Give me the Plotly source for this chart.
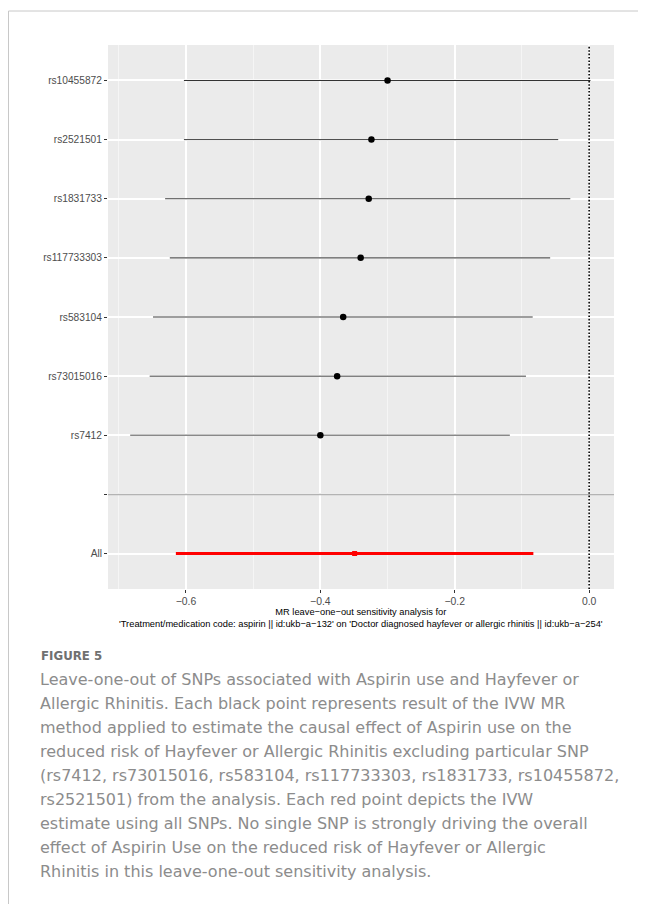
import plotly.graph_objects as go

# ---- data ----
snps = ["rs10455872", "rs2521501", "rs1831733", "rs117733303", "rs583104", "rs73015016", "rs7412"]
snp_b = [-0.300, -0.324, -0.328, -0.340, -0.366, -0.375, -0.400]
snp_lo = [-0.603, -0.603, -0.631, -0.624, -0.649, -0.654, -0.683]
snp_hi = [0.002, -0.046, -0.028, -0.058, -0.084, -0.094, -0.118]
snp_line_colors = ["#2e2e2e", "#3a3a3a", "#444444", "#555555", "#7c7c7c", "#808080", "#888888"]
snp_line_widths = [1.0, 1.0, 1.0, 1.2, 1.5, 1.5, 1.5]

all_label = "All"
all_b = -0.349
all_lo = -0.615
all_hi = -0.083

sep_label = " "
x_ticks = [-0.6, -0.4, -0.2, 0.0]
x_range = [-0.716, 0.037]

axis_title = ("MR leave\u2212one\u2212out sensitivity analysis for<br>"
              "'Treatment/medication code: aspirin || id:ukb\u2212a\u2212132' on "
              "'Doctor diagnosed hayfever or allergic rhinitis || id:ukb\u2212a\u2212254'")

fig_label = "FIGURE 5"
caption_lines = [
    "Leave-one-out of SNPs associated with Aspirin use and Hayfever or",
    "Allergic Rhinitis. Each black point represents result of the IVW MR",
    "method applied to estimate the causal effect of Aspirin use on the",
    "reduced risk of Hayfever or Allergic Rhinitis excluding particular SNP",
    "(rs7412, rs73015016, rs583104, rs117733303, rs1831733, rs10455872,",
    "rs2521501) from the analysis. Each red point depicts the IVW",
    "estimate using all SNPs. No single SNP is strongly driving the overall",
    "effect of Aspirin Use on the reduced risk of Hayfever or Allergic",
    "Rhinitis in this leave-one-out sensitivity analysis.",
]

# ---- layout geometry (pixels; page body has an 8px margin) ----
OFF = 8
W, H = 638, 896
PL, PR, PT, PB = 108 - OFF, 614 - OFF, 45 - OFF, 589 - OFF


def px(xs):
    """screen x (reference pixels) -> paper fraction"""
    return (xs - OFF - PL) / (PR - PL)


def py(ys):
    """screen y (reference pixels) -> paper fraction"""
    return (PB - (ys - OFF)) / (PB - PT)


cat_order = [all_label, sep_label] + snps[::-1]  # bottom to top

fig = go.Figure()

for name, b, lo, hi, col, lw in zip(snps, snp_b, snp_lo, snp_hi, snp_line_colors, snp_line_widths):
    fig.add_trace(go.Scatter(
        x=[lo, hi], y=[name, name], mode="lines",
        line=dict(color=col, width=lw), showlegend=False, hoverinfo="skip"))
    fig.add_trace(go.Scatter(
        x=[b], y=[name], mode="markers",
        marker=dict(color="black", size=6.5), showlegend=False))

fig.add_trace(go.Scatter(
    x=[all_lo, all_hi], y=[all_label, all_label], mode="lines",
    line=dict(color="#ff0000", width=3.2), showlegend=False, hoverinfo="skip"))
fig.add_trace(go.Scatter(
    x=[all_b], y=[all_label], mode="markers",
    marker=dict(color="#ff0000", size=5, symbol="square"), showlegend=False))

shapes = []
# separator row line
shapes.append(dict(type="line", xref="paper", x0=0, x1=1, yref="y", y0=1, y1=1,
                   line=dict(color="#b3b3b3", width=1.5), layer="above"))
# dotted vertical at 0
shapes.append(dict(type="line", xref="x", x0=0, x1=0, yref="paper", y0=0, y1=1,
                   line=dict(color="black", width=1.6, dash="1.6px,1.8px"), layer="above"))
# outer frame of the figure page
shapes.append(dict(type="line", xref="paper", yref="paper",
                   x0=px(8.5), x1=px(8.5), y0=py(11), y1=py(904),
                   line=dict(color="#c8c8c8", width=1)))
shapes.append(dict(type="line", xref="paper", yref="paper",
                   x0=px(8.5), x1=px(646), y0=py(11), y1=py(11),
                   line=dict(color="#c8c8c8", width=1)))

annotations = []
annotations.append(dict(
    text=axis_title, xref="paper", yref="paper", x=0.5, y=py(605),
    xanchor="center", yanchor="top", showarrow=False, align="center",
    font=dict(family="Liberation Sans, Arial", size=9.3, color="black")))
annotations.append(dict(
    text="<b>" + fig_label + "</b>", xref="paper", yref="paper", x=px(39), y=py(656),
    xanchor="left", yanchor="middle", showarrow=False,
    font=dict(family="DejaVu Sans", size=11.8, color="#707070")))
for i, line in enumerate(caption_lines):
    annotations.append(dict(
        text=line, xref="paper", yref="paper", x=px(38), y=py(679 + i * 24.1),
        xanchor="left", yanchor="middle", showarrow=False,
        font=dict(family="DejaVu Sans", size=16, color="#8c8c8c")))

fig.update_layout(
    width=W, height=H,
    margin=dict(l=PL, r=W - PR, t=PT, b=H - PB, pad=0),
    paper_bgcolor="white", plot_bgcolor="#ebebeb",
    shapes=shapes, annotations=annotations,
    xaxis=dict(
        range=x_range, tickvals=x_ticks, tickformat=".1f",
        showgrid=True, gridcolor="white", gridwidth=1.6,
        minor=dict(dtick=0.2, tick0=-0.7, showgrid=True, gridcolor="#f5f5f5", gridwidth=0.8, ticks=""),
        zeroline=False, showline=False,
        ticks="outside", ticklen=3, tickcolor="#333333", tickwidth=1,
        tickfont=dict(family="Liberation Sans, Arial", size=10.4, color="#4d4d4d"),
    ),
    yaxis=dict(
        type="category", categoryorder="array", categoryarray=cat_order,
        range=[-0.6, len(cat_order) - 1 + 0.6],
        showgrid=True, gridcolor="white", gridwidth=1.6,
        zeroline=False, showline=False,
        ticks="outside", ticklen=3, tickcolor="#333333", tickwidth=1,
        tickfont=dict(family="Liberation Sans, Arial", size=10.2, color="#4d4d4d"),
    ),
)

fig.write_html("out.html")
